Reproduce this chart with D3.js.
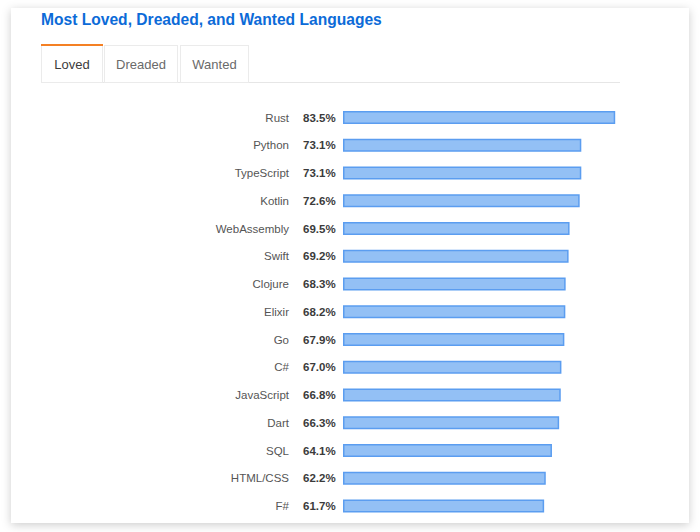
<!DOCTYPE html>
<html>
<head>
<meta charset="utf-8">
<script src="https://cdn.jsdelivr.net/npm/d3@7"></script>
<style>
  body { margin: 0; background: #fff; }
  svg { display: block; font-family: "Liberation Sans", Arial, sans-serif; }
</style>
</head>
<body>
<svg id="chart"></svg>
<script>
// data
const languages = ["Rust", "Python", "TypeScript", "Kotlin", "WebAssembly", "Swift", "Clojure",
  "Elixir", "Go", "C#", "JavaScript", "Dart", "SQL", "HTML/CSS", "F#"]
const loved = [83.5, 73.1, 73.1, 72.6, 69.5, 69.2, 68.3, 68.2, 67.9, 67.0, 66.8, 66.3, 64.1, 62.2, 61.7]
const tabs = ["Loved", "Dreaded", "Wanted"]
const title = "Most Loved, Dreaded, and Wanted Languages"

const width = 700
const height = 532

const svg = d3.select("#chart")
    .attr("width", width)
    .attr("height", height)

// card shadow
const defs = svg.append("defs")
const f = defs.append("filter")
    .attr("id", "shadow")
    .attr("x", "-10%").attr("y", "-10%")
    .attr("width", "120%").attr("height", "120%")
f.append("feDropShadow")
    .attr("dx", 0).attr("dy", 2)
    .attr("stdDeviation", 5)
    .attr("flood-color", "#000")
    .attr("flood-opacity", 0.2)

svg.append("rect")
    .attr("x", 11).attr("y", 8)
    .attr("width", 678).attr("height", 515)
    .attr("fill", "#fff")
    .attr("filter", "url(#shadow)")

// title
svg.append("text")
    .attr("x", 41).attr("y", 25)
    .attr("fill", "#0c6bd8")
    .attr("font-size", "15.6px")
    .attr("font-weight", "bold")
    .text(title)

// tabs
const tabX = [41, 104, 180]
const tabW = [61, 73, 68]
const tabTop = 45
const tabBottom = 82

svg.append("line")
    .attr("x1", 41).attr("x2", 620)
    .attr("y1", tabBottom + 0.5).attr("y2", tabBottom + 0.5)
    .attr("stroke", "#e6e6e6")

tabs.forEach((t, i) => {
  const g = svg.append("g")
  g.append("rect")
      .attr("x", tabX[i] + 0.5).attr("y", tabTop + 0.5)
      .attr("width", tabW[i]).attr("height", tabBottom - tabTop)
      .attr("fill", "#fff")
      .attr("stroke", "#ebebeb")
  if (i === 0) {
    g.append("rect")
        .attr("x", tabX[i]).attr("y", tabTop - 1)
        .attr("width", tabW[i] + 1).attr("height", 2)
        .attr("fill", "#f48024")
  }
  g.append("text")
      .attr("x", tabX[i] + tabW[i] / 2 + 0.5)
      .attr("y", 69)
      .attr("text-anchor", "middle")
      .attr("font-size", "13px")
      .attr("fill", i === 0 ? "#3c3c3c" : "#6a6a6a")
      .text(t)
})

// scales
const x = d3.scaleLinear()
    .domain([0, 100])
    .range([343, 669])

const y = d3.scalePoint()
    .domain(languages)
    .range([117.5, 506])

const barH = 11.5

const rows = svg.append("g")
  .selectAll("g")
  .data(languages)
  .join("g")

rows.append("text")
    .attr("x", 289)
    .attr("y", d => y(d))
    .attr("dy", "0.35em")
    .attr("text-anchor", "end")
    .attr("font-size", "11.5px")
    .attr("fill", "#555")
    .text(d => d)

rows.append("text")
    .attr("x", 303)
    .attr("y", d => y(d))
    .attr("dy", "0.35em")
    .attr("font-size", "11.5px")
    .attr("font-weight", "bold")
    .attr("fill", "#3b3b3b")
    .text((d, i) => loved[i].toFixed(1) + "%")

rows.append("rect")
    .attr("x", x(0) + 0.75)
    .attr("y", d => y(d) - barH / 2)
    .attr("width", (d, i) => x(loved[i]) - x(0) - 1.5)
    .attr("height", barH)
    .attr("fill", "#93c0f5")
    .attr("stroke", "#5b9df0")
    .attr("stroke-width", 1.5)
</script>
</body>
</html>
